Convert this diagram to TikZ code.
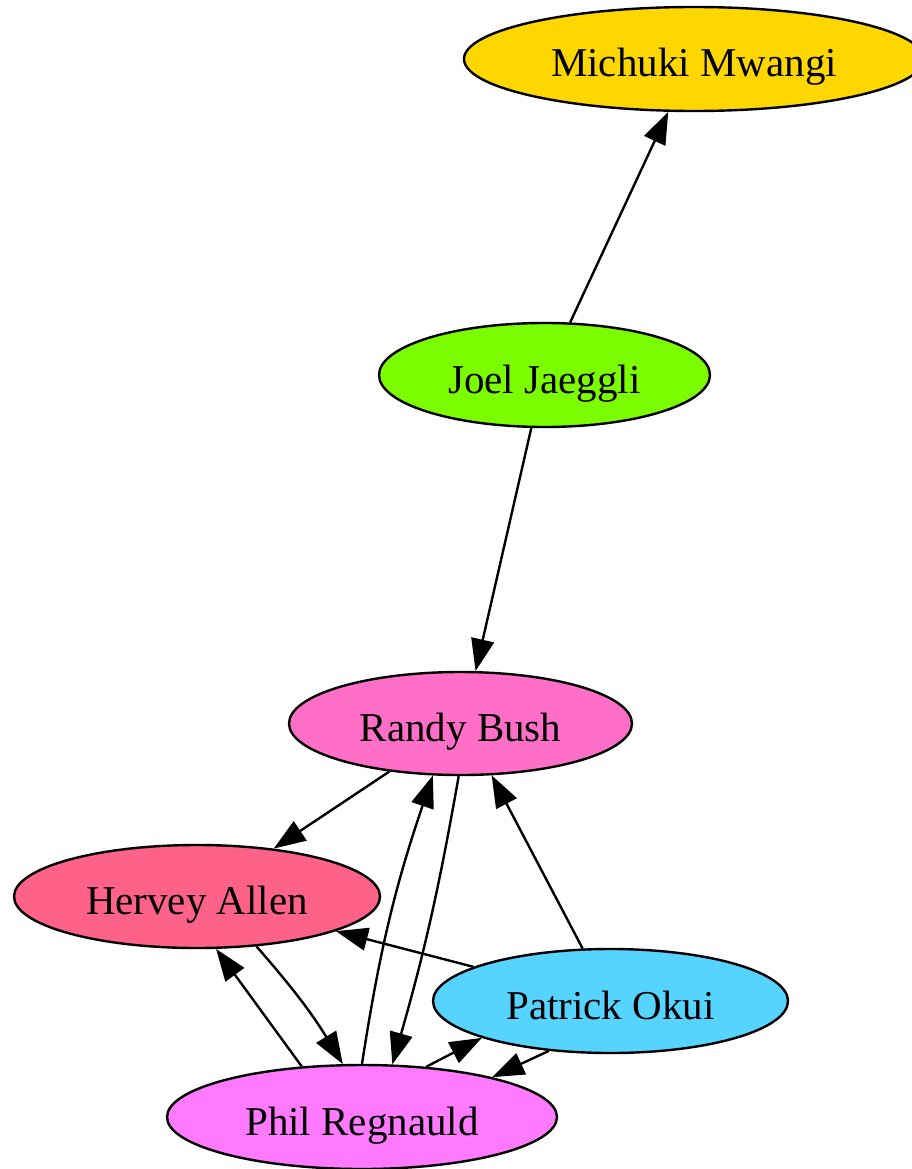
\documentclass[tikz,border=0pt]{standalone}
\usepackage{fontspec}
\setmainfont{Liberation Serif}
\usetikzlibrary{shapes.geometric,arrows.meta}
\definecolor{cMich}{HTML}{FFD700}
\definecolor{cJoel}{HTML}{7CFC00}
\definecolor{cRandy}{HTML}{FF6EC7}
\definecolor{cHervey}{HTML}{FF6289}
\definecolor{cPatrick}{HTML}{56D4FF}
\definecolor{cPhil}{HTML}{FF7AFF}
\tikzset{
  person/.style={ellipse, draw=black, line width=2.4pt, inner sep=0pt,
    text height=36pt, text depth=0pt,
    font=\fontsize{41}{49}\selectfont},
  link/.style={draw=black, line width=2.4pt,
    -{Triangle[length=32pt,width=23pt]}}
}
\begin{document}
\begin{tikzpicture}[x=1pt,y=-1pt]
\useasboundingbox (0,0) rectangle (912,1169);
\node[person, fill=cMich, minimum width=460pt, minimum height=104pt] (mich) at (694,59) {Michuki Mwangi};
\node[person, fill=cJoel, minimum width=331pt, minimum height=104pt] (joel) at (544.5,375) {Joel Jaeggli};
\node[person, fill=cRandy, minimum width=343pt, minimum height=103pt] (randy) at (460.5,723.5) {Randy Bush};
\node[person, fill=cHervey, minimum width=366pt, minimum height=103pt] (hervey) at (197,896.5) {Hervey Allen};
\node[person, fill=cPatrick, minimum width=355pt, minimum height=104pt] (patrick) at (610.5,1001) {Patrick Okui};
\node[person, fill=cPhil, minimum width=390pt, minimum height=104pt] (phil) at (362,1117) {Phil Regnauld};

\draw[link] (joel.64) -- (mich.244);
\draw[link] (joel.256) -- (randy.74);
\draw[link] (randy.214) -- (hervey.32);
\draw[link] (phil.90) to[bend left=5] (randy.242);
\draw[link] (randy.268) to[bend left=3] (phil.60);
\draw[link] (patrick.118) -- (randy.301);
\draw[link] (patrick.166) -- (hervey.346);
\draw[link] (hervey.320) to[bend left=5] (phil.110);
\draw[link] (phil.140) -- (hervey.290);
\draw[link] (phil.38) -- (patrick.196);
\draw[link] (patrick.219) -- (phil.17);
\end{tikzpicture}
\end{document}
